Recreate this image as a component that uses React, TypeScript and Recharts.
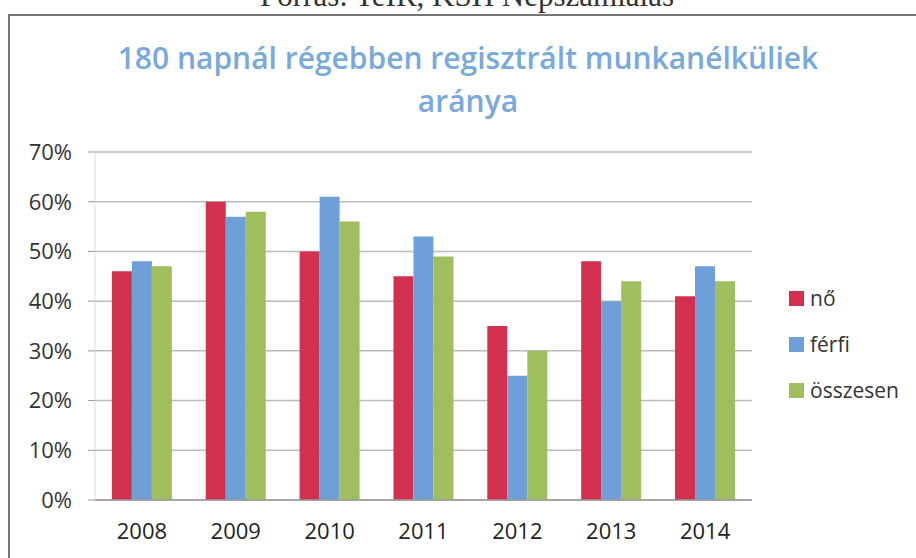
import React from "react";
import { BarChart, Bar, XAxis, YAxis, CartesianGrid } from "recharts";

const years = ["2008", "2009", "2010", "2011", "2012", "2013", "2014"];
const no = [46, 60, 50, 45, 35, 48, 41];
const ferfi = [48, 57, 61, 53, 25, 40, 47];
const osszesen = [47, 58, 56, 49, 30, 44, 44];
const yTicks = [0, 10, 20, 30, 40, 50, 60, 70];

const seriesNames = ["nő", "férfi", "összesen"];
const colors = ["#D1304F", "#6F9FD8", "#9FBF5E"];

const data = years.map((y, i) => ({ year: y, no: no[i], ferfi: ferfi[i], osszesen: osszesen[i] }));

const FONT = "'Open Sans', 'Noto Sans', sans-serif";

export default function App() {
  return (
    <div style={{ position: "absolute", left: 0, top: 0, width: 916, height: 558, overflow: "hidden", background: "#fff" }}>
      <div
        style={{
          position: "absolute",
          left: 0,
          width: 934,
          top: -20,
          textAlign: "center",
          fontFamily: "'Liberation Serif', serif",
          fontSize: 31,
          lineHeight: "31px",
          color: "#333",
          whiteSpace: "nowrap",
        }}
      >
        Forrás: TeIR, KSH Népszámlálás
      </div>
      <div
        style={{
          position: "absolute",
          left: 8,
          top: 14,
          width: 930,
          height: 600,
          borderLeft: "2px solid #777",
          borderTop: "2px solid #777",
        }}
      />
      <div
        style={{
          position: "absolute",
          left: 0,
          width: 936,
          top: 36,
          textAlign: "center",
          fontFamily: FONT,
          fontWeight: 600,
          fontSize: 30,
          lineHeight: "43px",
          color: "#79A8DD",
          whiteSpace: "nowrap",
        }}
      >
        180 napnál régebben regisztrált munkanélküliek
        <br />
        aránya
      </div>
      <div style={{ position: "absolute", left: 0, top: 0 }}>
        <BarChart
          width={916}
          height={558}
          data={data}
          margin={{ top: 152, right: 164, bottom: 18, left: 35 }}
          barCategoryGap="18%"
          barGap={0}
        >
          <CartesianGrid horizontal vertical={false} stroke="#BBBBBB" strokeWidth={1.5} />
          <XAxis
            dataKey="year"
            height={40}
            tickLine={false}
            axisLine={{ stroke: "#999", strokeWidth: 1.5 }}
            tick={{ fill: "#222", fontSize: 22, fontFamily: FONT }}
            tickMargin={17}
            interval={0}
          />
          <YAxis
            width={60}
            domain={[0, 70]}
            ticks={yTicks}
            interval={0}
            tickFormatter={(v) => `${v}%`}
            tickSize={7}
            tickMargin={16}
            tickLine={{ stroke: "#999" }}
            axisLine={{ stroke: "#DDD" }}
            tick={{ fill: "#333", fontSize: 22, fontFamily: FONT }}
          />
          <Bar dataKey="no" name={seriesNames[0]} fill={colors[0]} isAnimationActive={false} />
          <Bar dataKey="ferfi" name={seriesNames[1]} fill={colors[1]} isAnimationActive={false} />
          <Bar dataKey="osszesen" name={seriesNames[2]} fill={colors[2]} isAnimationActive={false} />
        </BarChart>
      </div>
      <div style={{ position: "absolute", left: 789, top: 275, fontFamily: FONT, fontSize: 21, color: "#333" }}>
        {seriesNames.map((n, i) => (
          <div key={n} style={{ display: "flex", alignItems: "center", height: 46 }}>
            <span style={{ display: "inline-block", width: 15, height: 15, background: colors[i], marginRight: 6 }} />
            <span>{n}</span>
          </div>
        ))}
      </div>
    </div>
  );
}
